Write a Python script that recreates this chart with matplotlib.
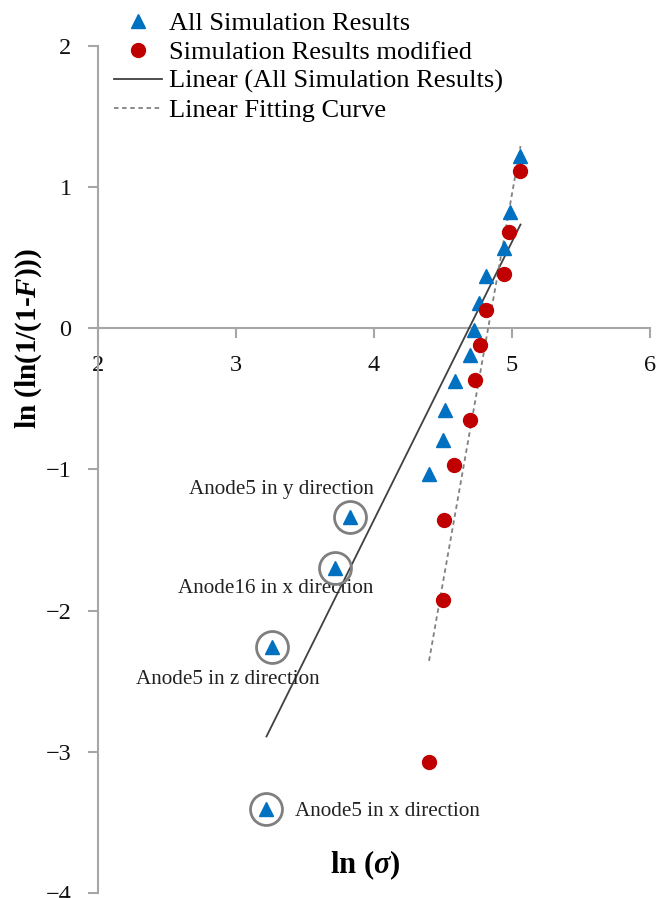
import matplotlib
matplotlib.use("Agg")
import matplotlib.pyplot as plt
import numpy as np

# All simulation results (blue triangles)
all_x = [5.063, 4.986, 4.945, 4.816, 4.763, 4.727, 4.696, 4.587, 4.514, 4.502, 4.400,
         3.826, 3.717, 3.263, 3.222]
all_y = [1.220, 0.825, 0.572, 0.371, 0.182, -0.014, -0.190, -0.374, -0.577, -0.790, -1.035,
         -1.338, -1.697, -2.260, -3.407]

# Simulation results modified (red circles)
mod_x = [5.063, 4.980, 4.942, 4.816, 4.768, 4.732, 4.700, 4.582, 4.510, 4.503, 4.400]
mod_y = [1.116, 0.683, 0.388, 0.132, -0.120, -0.369, -0.648, -0.967, -1.357, -1.924, -3.070]

# outliers that get a ring and a label
ring_x = [3.826, 3.717, 3.263, 3.222]
ring_y = [-1.338, -1.697, -2.260, -3.407]
ring_labels = ["Anode5 in y direction", "Anode16 in x direction",
               "Anode5 in z direction", "Anode5 in x direction"]

xticks = [2, 3, 4, 5, 6]
yticks = [-4, -3, -2, -1, 0, 1, 2]

plt.rcParams['font.family'] = ['Liberation Serif', 'DejaVu Serif']
plt.rcParams['mathtext.fontset'] = 'custom'
plt.rcParams['mathtext.rm'] = 'Liberation Serif:bold'
plt.rcParams['mathtext.it'] = 'Liberation Serif:bold:italic'
plt.rcParams['mathtext.bf'] = 'Liberation Serif:bold'

fig = plt.figure(figsize=(6.57, 8.98), dpi=100)
ax = fig.add_axes([0.149, 0.0056, 0.840, 0.9432])

blue = "#0070C0"
red = "#C00000"

ax.plot(all_x, all_y, linestyle='none', marker='^', markersize=10, color=blue,
        label="All Simulation Results", zorder=4)
ax.plot(mod_x, mod_y, linestyle='none', marker='o', markersize=10, color=red,
        label="Simulation Results modified", zorder=4)

# trend lines over the data range
p1 = np.polyfit(all_x, all_y, 1)
xs1 = np.array([min(all_x), max(all_x)])
ax.plot(xs1, np.polyval(p1, xs1), color="#404040", linewidth=1.3,
        label="Linear (All Simulation Results)", zorder=3)

p2 = np.polyfit(mod_x, mod_y, 1)
xs2 = np.array([min(mod_x), max(mod_x)])
ax.plot(xs2, np.polyval(p2, xs2), color="#808080", linewidth=1.3,
        linestyle=(0, (2.5, 2)), label="Linear Fitting Curve", zorder=3)

ax.plot(ring_x, ring_y, linestyle='none', marker='o', markersize=23,
        markerfacecolor='none', markeredgecolor="#7f7f7f", markeredgewidth=2, zorder=5)

text_pos = [(3.333, -1.142, 'center'), (3.29, -1.84, 'center'),
            (2.94, -2.49, 'center'), (3.43, -3.42, 'left')]
for (tx, ty, ha), lab in zip(text_pos, ring_labels):
    ax.text(tx, ty, lab, ha=ha, va='center', fontsize=15.2, color="#222222")

ax.set_xlim(2, 6)
ax.set_ylim(-4, 2)
ax.set_xticks(xticks)
ax.set_yticks(yticks)
ax.spines['left'].set_position(('data', 2))
ax.spines['bottom'].set_position(('data', 0))
ax.spines['top'].set_visible(False)
ax.spines['right'].set_visible(False)
for s in ['left', 'bottom']:
    ax.spines[s].set_color("#a6a6a6")
    ax.spines[s].set_linewidth(1.5)
ax.tick_params(axis='both', direction='out', length=7, width=1.5, color="#a6a6a6",
               labelsize=17.5, labelcolor="#111111", pad=12)
ax.patch.set_visible(False)

fig.text(365 / 657, 1 - 865 / 898, r"ln ($\sigma$)", ha='center', va='center', fontsize=22,
         fontweight='bold')
fig.text(29 / 657, 1 - 338 / 898, r"ln (ln(1/(1-$F$)))", ha='center', va='center',
         fontsize=21, fontweight='bold', rotation=90)

leg = ax.legend(loc='upper left', bbox_to_anchor=(114 / 657, 1 - 12 / 898),
                bbox_transform=fig.transFigure,
                frameon=False, fontsize=19, handlelength=1.8, handletextpad=0.3,
                labelspacing=0.2, borderpad=0, borderaxespad=0)

fig.savefig("out.png", dpi=100)
